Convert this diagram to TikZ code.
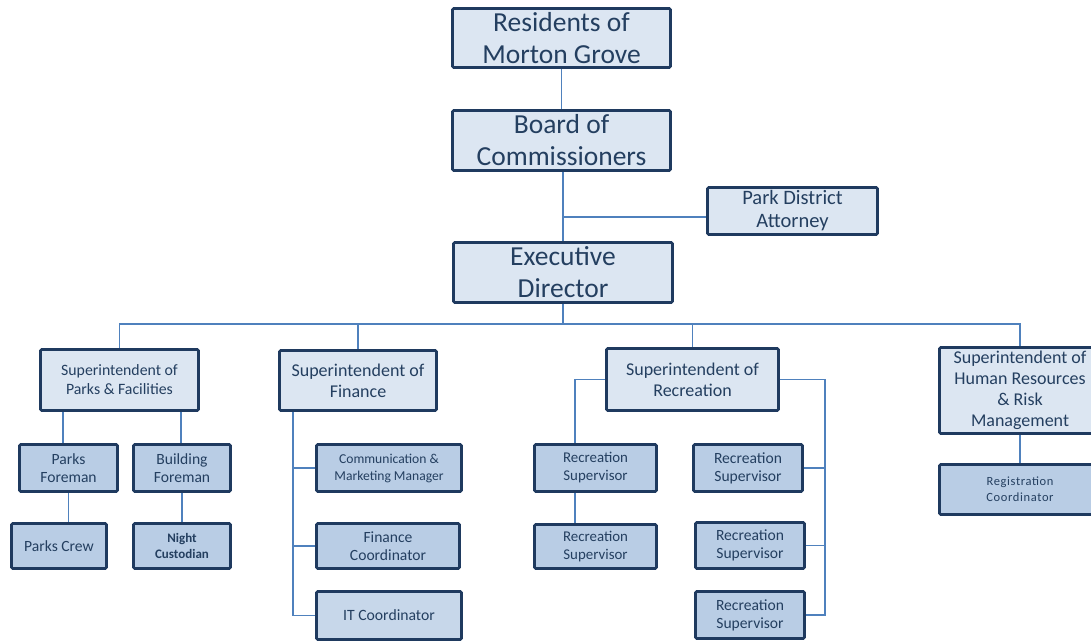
\documentclass[tikz,border=0pt]{standalone}
\usepackage{fontspec}
\setmainfont{Carlito}
\definecolor{bord}{HTML}{1F3A5F}
\definecolor{txt}{HTML}{243F60}
\definecolor{fillA}{HTML}{DCE6F2}
\definecolor{fillB}{HTML}{B9CDE5}
\definecolor{ln}{HTML}{4F81BD}
\tikzset{
  box/.style={draw=bord, line width=2.6pt, rounded corners=1.2pt, text=txt, align=center, inner sep=0pt, anchor=center},
  topbox/.style={box, fill=fillA},
  subbox/.style={box, fill=fillB},
  conn/.style={draw=ln, line width=1.1pt},
  fbig/.style={font=\fontsize{27.5}{32}\selectfont},
  fatt/.style={font=\fontsize{20.5}{23}\selectfont},
  fsup/.style={font=\fontsize{18}{21}\selectfont},
  fsupp/.style={font=\fontsize{15.8}{19}\selectfont},
  fmid/.style={font=\fontsize{15.6}{18}\selectfont},
  fsml/.style={font=\fontsize{13.6}{17}\selectfont},
}
\begin{document}
\begin{tikzpicture}[x=1pt,y=-1pt]
\useasboundingbox (0,0) rectangle (1091,640);
\clip (0,0) rectangle (1091,640);
% top level
\node[topbox, fbig, minimum width=218pt, minimum height=59pt] (res) at (561.5,38) {Residents of\\Morton Grove};
\node[topbox, fbig, minimum width=218pt, minimum height=60pt] (board) at (561.5,140.5) {Board of\\Commissioners};
\node[topbox, fatt, minimum width=170pt, minimum height=47pt] (att) at (792.5,211) {Park District\\Attorney};
\node[topbox, fbig, minimum width=219pt, minimum height=60pt] (exec) at (563,272.5) {Executive\\Director};
% superintendents
\node[topbox, fsupp, minimum width=158pt, minimum height=61pt] (sparks) at (119.5,380) {Superintendent of\\Parks \& Facilities};
\node[topbox, fsup, minimum width=157pt, minimum height=60pt] (sfin) at (358,380.5) {Superintendent of\\Finance};
\node[topbox, fsup, minimum width=172pt, minimum height=62pt] (srec) at (692.5,379.5) {Superintendent of\\Recreation};
\node[topbox, fsup, minimum width=161pt, minimum height=86pt] (shr) at (1020,390.5) {Superintendent of\\Human Resources\\\& Risk\\Management};
% parks
\node[subbox, fmid, minimum width=98pt, minimum height=47pt] (pf) at (68.5,468) {Parks\\Foreman};
\node[subbox, fmid, minimum width=97pt, minimum height=47pt] (bf) at (182,468) {Building\\Foreman};
\node[subbox, fmid, minimum width=95pt, minimum height=45pt] (crew) at (59,546) {Parks Crew};
\node[subbox, font=\fontsize{13}{16}\selectfont\bfseries, minimum width=97pt, minimum height=45pt] (night) at (182,546) {Night\\Custodian};
% finance
\node[subbox, fsml, minimum width=145pt, minimum height=47pt] (comm) at (389,468) {Communication \&\\Marketing Manager};
\node[subbox, fmid, minimum width=143pt, minimum height=45pt] (finc) at (388,546) {Finance\\Coordinator};
\node[subbox, font=\fontsize{15.7}{18}\selectfont, fill=fillB!80!white, minimum width=145pt, minimum height=48pt] (it) at (389,615.5) {IT Coordinator};
% recreation
\node[subbox, font=\fontsize{14.9}{18}\selectfont, minimum width=122pt, minimum height=47pt] (rs1) at (595.5,468) {Recreation\\Supervisor};
\node[subbox, font=\fontsize{14.9}{18}\selectfont, minimum width=122pt, minimum height=44pt] (rs2) at (595.5,546.5) {Recreation\\Supervisor};
\node[subbox, fmid, minimum width=109pt, minimum height=47pt] (rs3) at (748,468) {Recreation\\Supervisor};
\node[subbox, fmid, minimum width=109pt, minimum height=46pt] (rs4) at (750,545.5) {Recreation\\Supervisor};
\node[subbox, fmid, minimum width=109pt, minimum height=47pt] (rs5) at (750,615) {Recreation\\Supervisor};
% HR
\node[subbox, font=\fontsize{12.5}{16}\selectfont\addfontfeature{LetterSpace=5}, minimum width=161pt, minimum height=50pt] (reg) at (1020,489.5) {Registration\\Coordinator};
% connectors
\coordinate (j1) at (563,217);
\coordinate (bus) at (563,324);
\coordinate (fv) at (293,615);
\coordinate (rv) at (825,615);
\draw[conn] (res.south) -- (board.north);
\draw[conn] (exec.north |- board.south) -- (exec.north);
\draw[conn] (j1) -- (att.west |- j1);
\draw[conn] (exec.south) -- (bus);
\draw[conn] (sparks.north) -- (sparks.north |- bus) -- (shr.north |- bus) -- (shr.north);
\draw[conn] (sfin.north |- bus) -- (sfin.north);
\draw[conn] (srec.north |- bus) -- (srec.north);
% parks
\draw[conn] ([xshift=-5.5pt]pf.north) -- ([xshift=-5.5pt]pf.north |- sparks.south);
\draw[conn] ([xshift=-1pt]bf.north) -- ([xshift=-1pt]bf.north |- sparks.south);
\draw[conn] (pf.south) -- (pf.south |- crew.north);
\draw[conn] (bf.south) -- (night.north);
% finance
\draw[conn] (fv |- sfin.south) -- (fv |- it.west) -- (it.west);
\draw[conn] (fv |- comm.west) -- (comm.west);
\draw[conn] (fv |- finc.west) -- (finc.west);
% recreation
\draw[conn] (srec.west) -| ([xshift=-20.5pt]rs1.north);
\draw[conn] ([xshift=-20.5pt]rs1.south) -- ([xshift=-20.5pt]rs1.south |- rs2.north);
\draw[conn] (srec.east) -| (rv |- rs5.east) -- (rs5.east);
\draw[conn] (rs3.east) -- (rv |- rs3.east);
\draw[conn] (rs4.east) -- (rv |- rs4.east);
% HR
\draw[conn] (shr.south) -- (reg.north);
\end{tikzpicture}
\end{document}
